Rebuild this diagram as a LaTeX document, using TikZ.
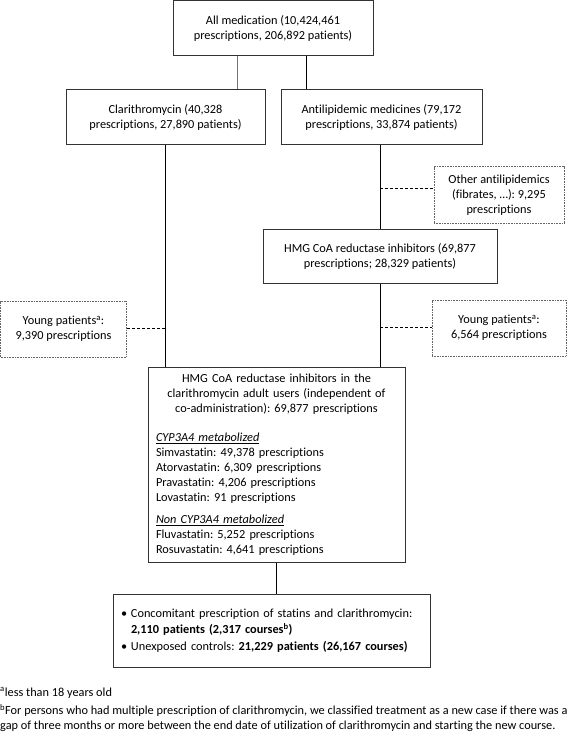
\documentclass[tikz,border=0pt]{standalone}
\usepackage{fontspec}
\setmainfont{Carlito}[Ligatures={NoCommon}]
\usetikzlibrary{calc}
\frenchspacing
\begin{document}
\begin{tikzpicture}[x=1pt,y=-1pt,
  every node/.style={font=\fontsize{12.3}{15}\selectfont\frenchspacing, inner sep=0pt},
  box/.style={draw=black!80, line width=1pt, align=center},
  dotbox/.style={draw=black!60, line width=1pt, dash pattern=on 1pt off 0.6pt, align=center},
  link/.style={draw=black, line width=1pt},
  glink/.style={draw=black!55, line width=1pt},
  dlink/.style={draw=black, line width=0.8pt, dash pattern=on 3pt off 2pt}]
\useasboundingbox (0,0) rectangle (567,735);

\node[box, minimum width=200pt, minimum height=55pt] (top) at (273,28)
  {All medication (10,424,461\\prescriptions, 206,892 patients)};
\node[box, minimum width=199pt, minimum height=55pt] (clari) at (165.5,117.5)
  {Clarithromycin (40,328\\prescriptions, 27,890 patients)};
\node[box, minimum width=201pt, minimum height=55pt] (anti) at (381.5,117.5)
  {Antilipidemic medicines (79,172\\prescriptions, 33,874 patients)};
\node[dotbox, minimum width=130pt, minimum height=56pt] (other) at (499,195)
  {Other antilipidemics\\(fibrates, …): 9,295\\prescriptions};
\node[box, minimum width=234pt, minimum height=54pt] (hmg) at (380,256)
  {HMG CoA reductase inhibitors (69,877\\prescriptions; 28,329 patients)};
\node[dotbox, minimum width=126pt, minimum height=56pt] (youngL) at (63.5,329)
  {Young patients\textsuperscript{a}:\\9,390 prescriptions};
\node[dotbox, minimum width=134pt, minimum height=56pt] (youngR) at (499,328)
  {Young patients\textsuperscript{a}:\\6,564 prescriptions};
\node[box, minimum width=257pt, minimum height=195pt, text width=241pt, align=left] (big) at (276.5,464.5)
  {{\centering HMG CoA reductase inhibitors in the\\clarithromycin adult users (independent of\\co-administration): 69,877 prescriptions\par}
   \vspace{14pt}
   \underline{\textit{CYP3A4 metabolized}}\\
   Simvastatin: 49,378 prescriptions\\
   Atorvastatin: 6,309 prescriptions\\
   Pravastatin: 4,206 prescriptions\\
   Lovastatin: 91 prescriptions\par
   \vspace{7pt}
   \underline{\textit{Non CYP3A4 metabolized}}\\
   Fluvastatin: 5,252 prescriptions\\
   Rosuvastatin: 4,641 prescriptions};
\node[box, minimum width=317pt, minimum height=73pt, text width=301pt, align=left,
  font=\fontsize{12.3}{16.5}\selectfont\frenchspacing] (bottom) at (271.5,630.5)
  {\makebox[10pt][l]{\textbullet}Concomitant prescription of statins and clarithromycin:\\
   \hspace*{10pt}\textbf{2,110 patients (2,317 courses\textsuperscript{b})}\\
   \makebox[10pt][l]{\textbullet}Unexposed controls: \textbf{21,229 patients (26,167 courses)}};

\node[anchor=west] (fna) at (0,693) {\textsuperscript{a}less than 18 years old};
\node[anchor=west, align=left] (fnb) at (0,718)
  {\textsuperscript{b}For persons who had multiple prescription of clarithromycin, we classified treatment as a new case if there was a\\
   gap of three months or more between the end date of utilization of clarithromycin and starting the new course.};

% connectors
\draw[glink] (top.south -| 237,0) -- (clari.north -| 237,0);
\draw[link] (top.south -| 306,0) -- (anti.north -| 306,0);
\draw[link] (clari.south) -- (clari.south |- big.north);
\draw[link] (anti.south -| hmg.north) -- (hmg.north);
\draw[link] (hmg.south) -- (hmg.south |- big.north);
\draw[link] (big.south) -- (big.south |- bottom.north);

\coordinate (j1) at (380,188);
\coordinate (j2) at (166,328);
\coordinate (j3) at (380,327);
\draw[dlink] (j1) -- (other.west |- j1);
\draw[dlink] (youngL.east |- j2) -- (j2);
\draw[dlink] (j3) -- (youngR.west |- j3);
\end{tikzpicture}
\end{document}
